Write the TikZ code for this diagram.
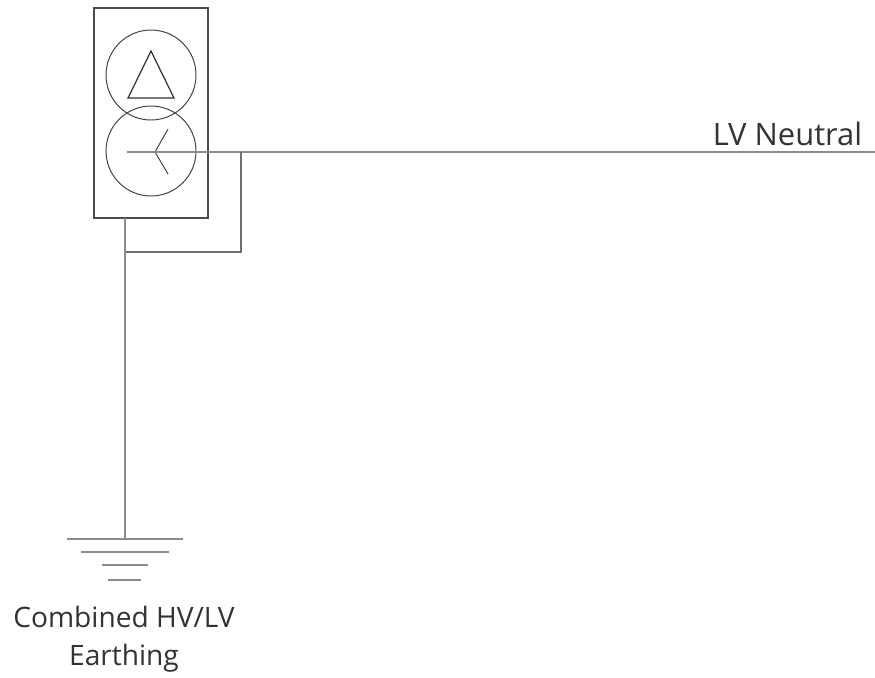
\documentclass[tikz,border=0pt]{standalone}
\usepackage{fontspec}
\setmainfont{Open Sans}
\definecolor{wire}{gray}{0.55}
\definecolor{tankline}{gray}{0.3}
\definecolor{labeltext}{gray}{0.2}
\tikzset{
	tank/.style={draw=tankline,line width=1.2pt,minimum width=2.28cm,minimum height=4.2cm,inner sep=0pt},
	winding/.style={draw=black!75,line width=0.55pt,circle,minimum size=1.8cm,inner sep=0pt},
	wirelabel/.style={text=labeltext,align=center,inner sep=0pt},
	conductor/.style={draw=wire,line width=0.6pt},
	bond/.style={draw=wire!80!black,line width=1.1pt},
	earthbar/.style={draw=wire,line width=0.6pt}
}
\begin{document}
\begin{tikzpicture}[x=0.02cm,y=-0.02cm]
	\useasboundingbox (0,0) rectangle (875,677);
	\node[tank] (tank) at (151,113) {};
	\node[winding] (hv) at (151,75) {};
	\node[winding] (lv) at (151,151) {};
	% delta and star
	\draw[black!80,line width=0.7pt,line join=miter] (151,51) -- (128,98) -- (174,98) -- cycle;
	\coordinate (star) at (155,152);
	\coordinate (stemend) at (127,152);
	\coordinate (armup) at (168,129);
	\coordinate (armdown) at (168,174);
	\draw[black!75,line width=0.55pt] (armup) -- (star) -- (armdown);
	% neutral
	\coordinate (tee) at (241,152);
	\coordinate (neutralend) at (875,152);
	\draw[conductor] (stemend) -- (star) -- (tee) -- (neutralend);
	\node[wirelabel,font=\fontsize{17.6}{21.6}\selectfont] (neutrallabel) at (787.5,134) {LV Neutral};
	% earth
	\coordinate (tanktap) at (125,218);
	\coordinate (bondjoin) at (125,252);
	\coordinate (earthtop) at (125,539);
	\draw[bond] (tee) -- (bondjoin -| tee) -- (bondjoin);
	\draw[conductor] (tanktap) -- (bondjoin) -- (earthtop);
	\foreach \y/\xa/\xb in {539/67/183,552/81/169,565/102/148,580/108/141}
	{
		\draw[earthbar] (\xa,\y) -- (\xb,\y);
	}
	\node[wirelabel,font=\fontsize{16}{21.6}\selectfont] (earthlabel) at (124,639) {Combined HV/LV\\Earthing};
\end{tikzpicture}
\end{document}
